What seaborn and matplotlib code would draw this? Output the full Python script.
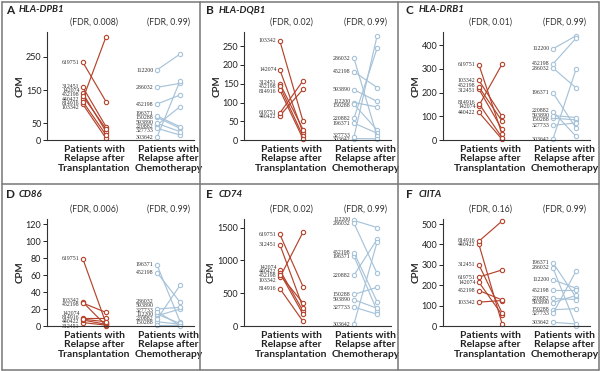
import numpy as np
import pandas as pd
import matplotlib
matplotlib.use('Agg')
import matplotlib.pyplot as plt
import seaborn as sns
from matplotlib.lines import Line2D

sns.set_style('white')
plt.rcParams['font.family'] = ['Lato', 'DejaVu Sans']

RED = '#b5432c'
BLUE = '#a7c3d9'

tx_ids = ['619751', '312451', '142074', '452198', '440422', '814916', '103342']
chemo_ids = ['112200', '286032', '452198', '196371', '150288', '593890', '220882', '327733', '303642']

# CPM at diagnosis / at relapse, in the order of tx_ids and chemo_ids
dpb1_tx_dx = [233, 158, 140, 132, 123, 115, 107]
dpb1_tx_rel = [115, 40, 25, 33, 310, 15, 5]
dpb1_ch_dx = [210, 158, 108, 72, 68, 50, 45, 35, 8]
dpb1_ch_rel = [258, 170, 135, 40, 35, 25, 100, 15, 178]

dqb1_tx_dx = [72, 150, 187, 143, 65, 133, 264]
dqb1_tx_rel = [158, 28, 20, 10, 135, 3, 50]
dqb1_ch_dx = [100, 218, 182, 45, 95, 134, 58, 8, 4]
dqb1_ch_rel = [88, 10, 140, 18, 27, 103, 245, 278, 3]

drb1_tx_dx = [318, 215, 145, 224, 117, 154, 252]
drb1_tx_rel = [25, 45, 320, 80, 3, 10, 100]
drb1_ch_dx = [385, 304, 321, 199, 92, 103, 120, 62, 4]
drb1_ch_rel = [440, 220, 430, 50, 85, 95, 15, 72, 300]

cd86_tx_dx = [79, 4, 10, 27, 7, 8, 28]
cd86_tx_rel = [3, 1, 10, 16, 2, 5, 0.5]
cd86_ch_dx = [12, 20, 63, 72, 5, 17, 8, 14, 1]
cd86_ch_rel = [20, 22, 28, 5, 2, 0.5, 48, 3, 1]

cd74_tx_dx = [1395, 1240, 850, 780, 810, 570, 740]
cd74_tx_rel = [600, 280, 230, 350, 180, 70, 1430]
cd74_ch_dx = [1608, 1567, 1116, 1065, 481, 400, 773, 287, 30]
cd74_ch_rel = [1500, 800, 370, 230, 590, 270, 1320, 180, 1280]

ciita_tx_dx = [240, 301, 215, 174, 401, 416, 117]
ciita_tx_rel = [275, 65, 55, 128, 12, 515, 125]
ciita_ch_dx = [227, 285, 175, 310, 80, 115, 135, 62, 18]
ciita_ch_rel = [185, 0, 175, 140, 85, 150, 130, 270, 10]

group_labels = ['Patients with\nRelapse after\nTransplantation',
                'Patients with\nRelapse after\nChemotherapy']

panels = [
    ('A', 'HLA-DPB1', '0.008', dpb1_tx_dx, dpb1_tx_rel, dpb1_ch_dx, dpb1_ch_rel, [0, 50, 150, 250], 324),
    ('B', 'HLA-DQB1', '0.02', dqb1_tx_dx, dqb1_tx_rel, dqb1_ch_dx, dqb1_ch_rel, [0, 50, 100, 150, 200, 250], 288),
    ('C', 'HLA-DRB1', '0.01', drb1_tx_dx, drb1_tx_rel, drb1_ch_dx, drb1_ch_rel, [0, 100, 200, 300, 400], 456),
    ('D', 'CD86', '0.006', cd86_tx_dx, cd86_tx_rel, cd86_ch_dx, cd86_ch_rel, [0, 20, 40, 60, 80, 100, 120], 126),
    ('E', 'CD74', '0.02', cd74_tx_dx, cd74_tx_rel, cd74_ch_dx, cd74_ch_rel, [0, 500, 1000, 1500], 1630),
    ('F', 'CIITA', '0.16', ciita_tx_dx, ciita_tx_rel, ciita_ch_dx, ciita_ch_rel, [0, 100, 200, 300, 400, 500], 525),
]

W, H = 600, 371
X_TX = (0, 1)
X_CH = (3.2, 4.2)


def spread(vals, gap, lo):
    # push labels apart so they don't overlap
    vals = np.asarray(vals, float)
    order = np.argsort(vals)[::-1]
    pos = vals[order].copy()
    for _ in range(200):
        for i in range(len(pos) - 1):
            d = pos[i] - pos[i + 1]
            if d < gap:
                s = (gap - d) / 2
                pos[i] += s
                pos[i + 1] -= s
        if pos[-1] < lo:
            pos[-1] = lo
    out = np.empty_like(pos)
    out[order] = pos
    return out


def make_df(ids, dx, rel, xs):
    return pd.DataFrame({
        'pid': ids + ids,
        'x': [xs[0]] * len(ids) + [xs[1]] * len(ids),
        'cpm': list(dx) + list(rel),
    })


fig = plt.figure(figsize=(W / 100, H / 100), dpi=100)

col_x = [47, 244, 443]
rows = [(32, 140), (219, 326)]
ax_w = 147

for k, (letter, gene, fdr, tdx, trel, cdx, crel, ticks, ytop) in enumerate(panels):
    r, c = divmod(k, 3)
    top, bot = rows[r]
    ax = fig.add_axes([col_x[c] / W, 1 - bot / H, ax_w / W, (bot - top) / H])

    for ids, dx, rel, xs, color in [(tx_ids, tdx, trel, X_TX, RED),
                                   (chemo_ids, cdx, crel, X_CH, BLUE)]:
        df = make_df(ids, dx, rel, xs)
        sns.lineplot(data=df, x='x', y='cpm', units='pid', estimator=None,
                     sort=False, color=color, linewidth=0.85, marker='o',
                     markersize=3.1, markerfacecolor='white',
                     markeredgecolor=color, markeredgewidth=0.8,
                     clip_on=False, legend=False, ax=ax)
        gap = 4.3 * ytop / (bot - top)
        ly = spread(dx, gap, -gap * 0.3)
        for pid, yy in zip(ids, ly):
            ax.annotate(pid, xy=(xs[0], yy), xytext=(-2.4, 0),
                        textcoords='offset points', ha='right', va='center',
                        fontsize=4.2, family='Liberation Serif', color='#333333')

    ax.set_xlim(-1.55, 4.8)
    ax.set_ylim(0, ytop)
    ax.set_yticks(ticks)
    ax.set_xticks([])
    ax.set_xlabel('')
    ax.set_ylabel('CPM', fontsize=7, fontweight='bold', labelpad=1)
    ax.tick_params(axis='y', length=3, width=0.7, pad=1, labelsize=6.5,
                   colors='#222222', left=True)
    for s in ['top', 'right']:
        ax.spines[s].set_visible(False)
    for s in ['left', 'bottom']:
        ax.spines[s].set_color('#333333')
        ax.spines[s].set_linewidth(0.8)

    for xs, lab, f in [(X_TX, group_labels[0], fdr), (X_CH, group_labels[1], '0.99')]:
        xc = (xs[0] + xs[1]) / 2
        ax.annotate(f'(FDR, {f})', xy=(xc, 1), xycoords=('data', 'axes fraction'),
                    xytext=(0, 7), textcoords='offset points', ha='center',
                    va='center', fontsize=6.3, color='#333333')
        ax.annotate(lab, xy=(xc, 0), xycoords=('data', 'axes fraction'),
                    xytext=(0, -3.5), textcoords='offset points', ha='center',
                    va='top', fontsize=7.4, fontweight='bold', color='#222222',
                    linespacing=1.05)

    px = c * 200 + 6
    py = r * 185 + 10
    fig.text(px / W, 1 - py / H, letter, fontsize=8.5, fontweight='bold',
             va='center', ha='left', color='#222222')
    fig.text((px + 13) / W, 1 - py / H, gene, fontsize=7, fontweight='bold',
             style='italic', va='center', ha='left', color='#222222')

# panel frames
fc = '#777777'
for x0, y0, x1, y1 in [(1.5, 1.5, 598.5, 1.5), (1.5, 369.5, 598.5, 369.5),
                       (1.5, 1.5, 1.5, 369.5), (598.5, 1.5, 598.5, 369.5),
                       (200, 1.5, 200, 369.5), (398, 1.5, 398, 369.5),
                       (1.5, 184, 598.5, 184)]:
    fig.add_artist(Line2D([x0 / W, x1 / W], [1 - y0 / H, 1 - y1 / H],
                          color=fc, linewidth=1.1))

plt.savefig('out.png', dpi=100)
plt.close()
